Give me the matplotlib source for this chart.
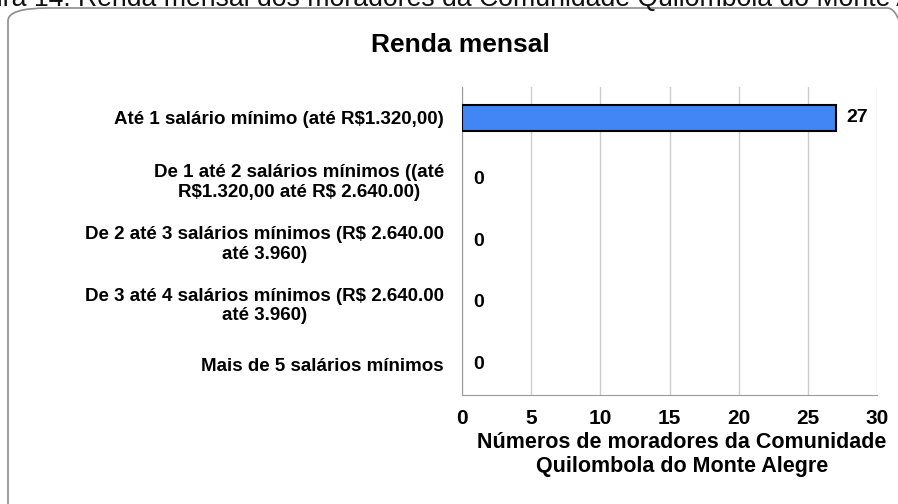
import matplotlib.pyplot as plt
from matplotlib.patches import FancyBboxPatch
import numpy as np

plt.rcParams['font.family'] = ['Liberation Sans', 'DejaVu Sans']
plt.rcParams['text.parse_math'] = False

categories = [
    'Até 1 salário mínimo (até R$1.320,00)',
    'De 1 até 2 salários mínimos ((até\nR$1.320,00 até R$ 2.640.00)',
    'De 2 até 3 salários mínimos (R$ 2.640.00\naté 3.960)',
    'De 3 até 4 salários mínimos (R$ 2.640.00\naté 3.960)',
    'Mais de 5 salários mínimos',
]
values = [27, 0, 0, 0, 0]
xticks = [0, 5, 10, 15, 20, 25, 30]

title = 'Renda mensal'
xlabel = 'Números de moradores da Comunidade\nQuilombola do Monte Alegre'
caption = 'Figura 14. Renda mensal dos moradores da Comunidade Quilombola do Monte Alegre'

fig = plt.figure(figsize=(8.98, 5.04), dpi=100)

# rounded frame around the chart
frame = FancyBboxPatch((8 / 898, -30 / 504), 920 / 898, 526 / 504,
                       boxstyle='round,pad=0,rounding_size=0.045',
                       transform=fig.transFigure, fill=False,
                       edgecolor='#8c8c8c', linewidth=1.2, mutation_aspect=504 / 898)
fig.patches.append(frame)

# caption cut at the top of the image
fig.text(-0.055, 1 - 6.5 / 504, caption, fontsize=19.2, va='baseline', ha='left',
         color='#111111')

ax = fig.add_axes([462 / 898, 1 - 395 / 504, 415 / 898, 308 / 504])
y = np.arange(len(categories))
edge_w = [1.5 if v > 0 else 0 for v in values]
ax.barh(y, values, height=0.42, color='#4285F4', edgecolor='black', linewidth=edge_w, zorder=3)
for yi, v in zip(y, values):
    ax.text(v + 0.8, yi, str(v), va='center', ha='left', fontsize=14, fontweight='bold')

ax.set_ylim(len(categories) - 0.5, -0.5)
ax.set_xlim(0, 30)
ax.set_yticks(y)
ax.set_yticklabels(categories, fontsize=13.5, fontweight='bold', multialignment='center')
ax.set_xticks(xticks)
ax.set_xticklabels([str(t) for t in xticks], fontsize=15, fontweight='bold')
ax.tick_params(axis='both', length=0)
ax.tick_params(axis='y', pad=13)
ax.tick_params(axis='x', pad=10)
ax.grid(axis='x', color='#cccccc', linewidth=1, zorder=0)
for side in ['top', 'right']:
    ax.spines[side].set_visible(False)
ax.spines['left'].set_color('#999999')
ax.spines['bottom'].set_color('#999999')

ax.set_xlabel(xlabel, fontsize=15.5, fontweight='bold')
ax.xaxis.set_label_coords(0.53, -0.12, transform=ax.transAxes)
ax.xaxis.label.set_va('top')

fig.text(460 / 898, 1 - 44.5 / 504, title, fontsize=19, fontweight='bold', ha='center', va='center')

fig.savefig('out.png', dpi=100)
